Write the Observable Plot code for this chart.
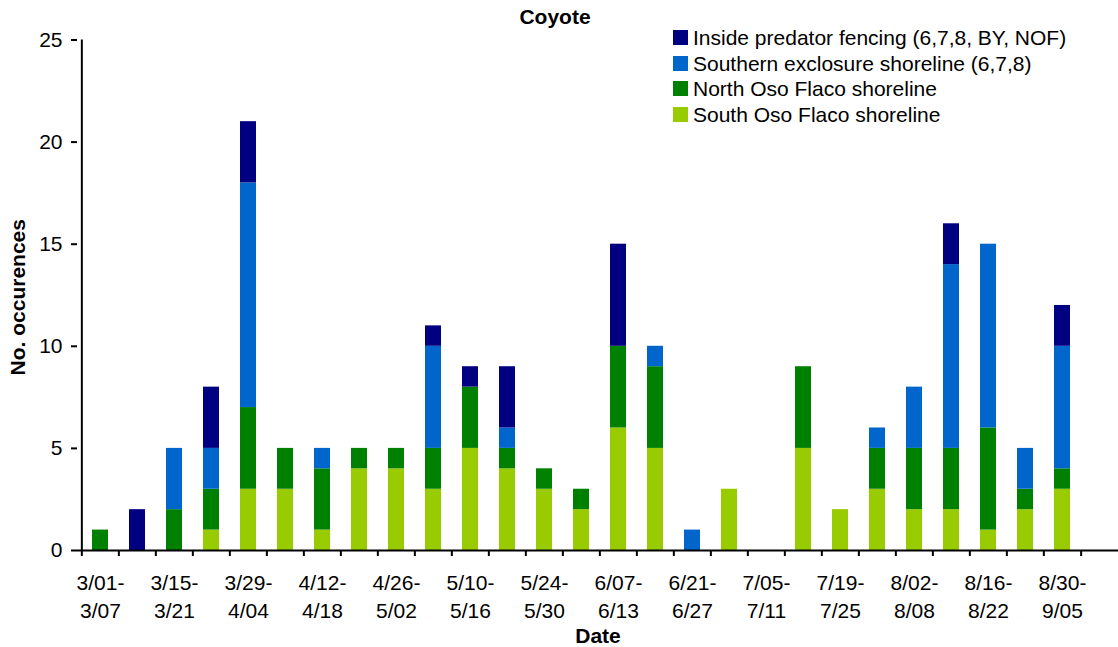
<!DOCTYPE html>
<html><head><meta charset="utf-8">
<script src="https://cdn.jsdelivr.net/npm/d3@7"></script>
<script src="https://cdn.jsdelivr.net/npm/@observablehq/plot@0.6"></script>
<style>
body{margin:0;background:#fff;}
#chart{position:relative;width:1118px;height:647px;font-family:Arial,"Liberation Sans",sans-serif;}
#chart > svg{position:absolute;left:0;top:0;}
#legend{position:absolute;left:673px;top:30px;width:445px;}
#legend .leg-swatches{font-family:Arial,"Liberation Sans",sans-serif;font-size:21px;color:#000;margin:0;}
#legend .leg-swatch{height:25.7px;padding:0;display:flex;align-items:flex-start;}
#legend .leg-swatch > svg{margin-right:5px;flex-shrink:0;}
#legend .leg-swatch-label{overflow:visible;line-height:15px;}
</style></head><body><div id="chart"><div id="legend"></div></div>
<script>
const weeks = ["3/01-3/07","3/08-3/14","3/15-3/21","3/22-3/28","3/29-4/04","4/05-4/11","4/12-4/18","4/19-4/25","4/26-5/02","5/03-5/09","5/10-5/16","5/17-5/23","5/24-5/30","5/31-6/06","6/07-6/13","6/14-6/20","6/21-6/27","6/28-7/04","7/05-7/11","7/12-7/18","7/19-7/25","7/26-8/01","8/02-8/08","8/09-8/15","8/16-8/22","8/23-8/29","8/30-9/05"];
const southOsoFlaco   = [0,0,0,1,3,3,1,4,4,3,5,4,3,2,6,5,0,3,0,5,2,3,2,2,1,2,3];
const northOsoFlaco   = [1,0,2,2,4,2,3,1,1,2,3,1,1,1,4,4,0,0,0,4,0,2,3,3,5,1,1];
const southernExclosure = [0,0,3,2,11,0,1,0,0,5,0,1,0,0,0,1,1,0,0,0,0,1,3,9,9,2,6];
const insideFencing   = [0,2,0,3,3,0,0,0,0,1,1,3,0,0,5,0,0,0,0,0,0,0,0,2,0,0,2];
const seriesNames = ["Inside predator fencing (6,7,8, BY, NOF)","Southern exclosure shoreline (6,7,8)","North Oso Flaco shoreline","South Oso Flaco shoreline"];
const seriesColors = ["#000080","#0066CC","#008000","#99CC00"];
const yTicks = [0,5,10,15,20,25];
const title = "Coyote";
const xTitle = "Date";
const yTitle = "No. occurences";

// stacking order: bottom to top
const stackSeries = [
  [seriesNames[3], southOsoFlaco],
  [seriesNames[2], northOsoFlaco],
  [seriesNames[1], southernExclosure],
  [seriesNames[0], insideFencing]
];
const rows = [];
for (const [name, vals] of stackSeries) {
  weeks.forEach((w, i) => rows.push({week: w, series: name, value: vals[i]}));
}
const labelWeeks = weeks.filter((d, i) => i % 2 === 0);
const xRange = [77, 1084];
const step = (xRange[1] - xRange[0]) / weeks.length;
const font = "Arial, 'Liberation Sans', sans-serif";

const chart = Plot.plot({
  width: 1118, height: 647,
  marginLeft: 77, marginRight: 0, marginTop: 39.5, marginBottom: 97,
  style: {fontFamily: font, fontSize: "21px", color: "#000", background: "transparent", overflow: "visible"},
  x: {domain: weeks, range: xRange, paddingInner: 0.58, paddingOuter: 0.29, axis: null},
  y: {domain: [0, 25], range: [550, 39.5], axis: null},
  color: {domain: seriesNames, range: seriesColors},
  marks: [
    Plot.barY(rows, {x: "week", y: "value", fill: "series", order: null}),
    Plot.ruleY([0], {stroke: "#000", strokeWidth: 2}),
    Plot.ruleX([weeks[0]], {y1: 0, y2: 25, dx: -step / 2, stroke: "#000", strokeWidth: 2}),
    Plot.axisY({ticks: yTicks, tickSize: 6, tickPadding: 9, label: null, fontSize: 21, strokeWidth: 2, stroke: "#000"}),
    Plot.axisX({ticks: weeks, tickSize: 6, tickFormat: () => "", label: null, dx: -step / 2, strokeWidth: 2, stroke: "#000"}),
    Plot.axisX({ticks: [weeks[weeks.length - 1]], tickSize: 6, tickFormat: () => "", label: null, dx: step / 2, strokeWidth: 2, stroke: "#000"}),
    Plot.text(labelWeeks, {x: d => d, frameAnchor: "bottom", lineAnchor: "top", dy: 20, text: d => d.replace("-", "-\n"), lineHeight: 1.33, fontSize: 21, fill: "#000"}),
    Plot.text([xTitle], {frameAnchor: "bottom", lineAnchor: "middle", dy: 86, fontSize: 21, fontWeight: "bold", fill: "#000"}),
    Plot.text([yTitle], {frameAnchor: "left", textAnchor: "middle", lineAnchor: "middle", rotate: -90, dx: -59, dy: 2, fontSize: 21, fontWeight: "bold", fill: "#000"}),
    Plot.text([title], {frameAnchor: "top", lineAnchor: "middle", dx: -43, dy: -23, fontSize: 21, fontWeight: "bold", fill: "#000"})
  ]
});
document.getElementById("chart").prepend(chart);

const legend = Plot.legend({
  color: {domain: seriesNames, range: seriesColors},
  legend: "swatches", columns: 1, swatchSize: 15, className: "leg"
});
document.getElementById("legend").append(legend);
</script>
</body></html>
